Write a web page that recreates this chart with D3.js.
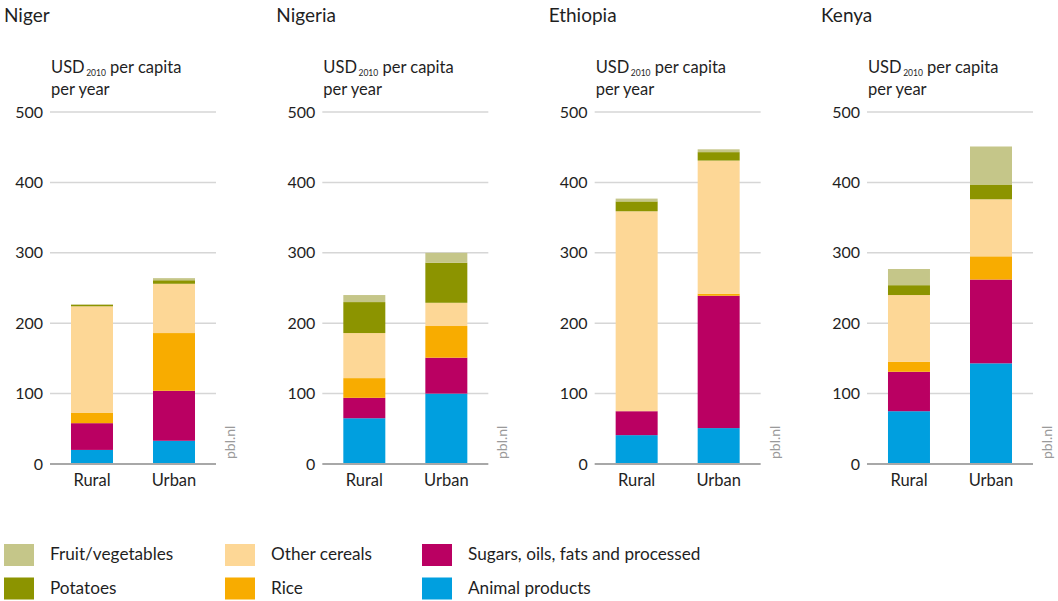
<!DOCTYPE html>
<html>
<head>
<meta charset="utf-8">
<script src="https://cdn.jsdelivr.net/npm/d3@7"></script>
<style>
  html, body { margin: 0; padding: 0; background: #fff; }
  svg text { font-family: Lato, "Open Sans", sans-serif; fill: #1f1f1f; }
</style>
</head>
<body>
<svg id="chart" width="1058" height="601"></svg>
<script>
const countries = ["Niger", "Nigeria", "Ethiopia", "Kenya"];
const groups = ["Rural", "Urban"];
const seriesNames = ["Animal products", "Sugars, oils, fats and processed", "Rice", "Other cereals", "Potatoes", "Fruit/vegetables"];
const seriesColors = ["#009fdf", "#ba0062", "#f8ac00", "#fdd796", "#8c9400", "#c5c689"];
const yTicks = [0, 100, 200, 300, 400, 500];

// values per country: [Rural, Urban], order as seriesNames
const animalProducts = [[20, 33], [65, 100], [41, 51], [75, 143]];
const sugarsOils     = [[38, 71], [29, 51], [34, 188], [56, 119]];
const rice           = [[15, 82], [28, 45], [0, 3], [14, 33]];
const otherCereals   = [[151, 70], [64, 33], [284, 189], [95, 81]];
const potatoes       = [[2, 5], [44, 57], [14, 12], [14, 21]];
const fruitVeg       = [[1, 3], [10, 14], [4, 4], [23, 54]];

const seriesData = [animalProducts, sugarsOils, rice, otherCereals, potatoes, fruitVeg];

// legend layout (order of columns as in reference)
const legendOrder = [
  ["Fruit/vegetables", "Potatoes"],
  ["Other cereals", "Rice"],
  ["Sugars, oils, fats and processed", "Animal products"]
];

const svg = d3.select("#chart");
const y = d3.scaleLinear().domain([0, 500]).range([464, 112]);
const color = d3.scaleOrdinal().domain(seriesNames).range(seriesColors);
const stack = d3.stack().keys(seriesNames);

countries.forEach((country, ci) => {
  const gx = 50 + ci * 272.33;
  const gw = 166;
  const g = svg.append("g");

  const x = d3.scaleBand().domain(groups).range([gx, gx + gw])
    .paddingInner(0.488).paddingOuter(0.256);

  // title
  g.append("text").attr("x", gx - 46).attr("y", 22)
    .style("font-size", "19px").text(country);

  // y label
  const yl = g.append("text").attr("x", gx + 1).attr("y", 73).style("font-size", "16.5px");
  yl.append("tspan").text("USD");
  yl.append("tspan").attr("dy", 2.5).attr("dx", 1.5).style("font-size", "8.5px").text("2010");
  yl.append("tspan").attr("dy", -2.5).text(" per capita");
  g.append("text").attr("x", gx + 1).attr("y", 95).style("font-size", "16.5px").text("per year");

  // gridlines
  g.selectAll(".grid").data(yTicks.filter(d => d > 0)).enter().append("line")
    .attr("x1", gx).attr("x2", gx + gw)
    .attr("y1", d => y(d)).attr("y2", d => y(d))
    .attr("stroke", "#d6d6d6").attr("stroke-width", 1.5);

  // tick labels
  g.selectAll(".tick").data(yTicks).enter().append("text")
    .attr("x", gx - 7).attr("y", d => y(d)).attr("dy", "0.35em")
    .attr("text-anchor", "end").style("font-size", "16px")
    .text(d => d);

  // stacked bars
  const rows = groups.map((grp, gi) => {
    const r = { group: grp };
    seriesNames.forEach((s, si) => { r[s] = seriesData[si][ci][gi]; });
    return r;
  });
  const stacked = stack(rows);
  stacked.forEach(layer => {
    g.selectAll(null).data(layer).enter().append("rect")
      .attr("x", d => x(d.data.group))
      .attr("width", x.bandwidth())
      .attr("y", d => y(d[1]))
      .attr("height", d => Math.max(0, y(d[0]) - y(d[1])))
      .attr("fill", color(layer.key));
  });

  // zero line
  g.append("line").attr("x1", gx).attr("x2", gx + gw)
    .attr("y1", y(0)).attr("y2", y(0))
    .attr("stroke", "#a8a8a8").attr("stroke-width", 2);

  // category labels
  g.selectAll(".cat").data(groups).enter().append("text")
    .attr("x", d => x(d) + x.bandwidth() / 2).attr("y", 486)
    .attr("text-anchor", "middle").style("font-size", "16.5px")
    .text(d => d);

  // pbl.nl
  g.append("text")
    .attr("transform", `translate(${gx + 185},459) rotate(-90)`)
    .style("font-size", "14px").style("fill", "#9a9a9a")
    .text("pbl.nl");
});

// legend
const colX = [4, 225, 422];
legendOrder.forEach((col, c) => {
  col.forEach((name, r) => {
    const ly = 544 + r * 33.5;
    svg.append("rect").attr("x", colX[c]).attr("y", ly).attr("width", 30).attr("height", 22)
      .attr("fill", color(name));
    svg.append("text").attr("x", colX[c] + 46).attr("y", ly + 16)
      .style("font-size", "17.2px").text(name);
  });
});
</script>
</body>
</html>
